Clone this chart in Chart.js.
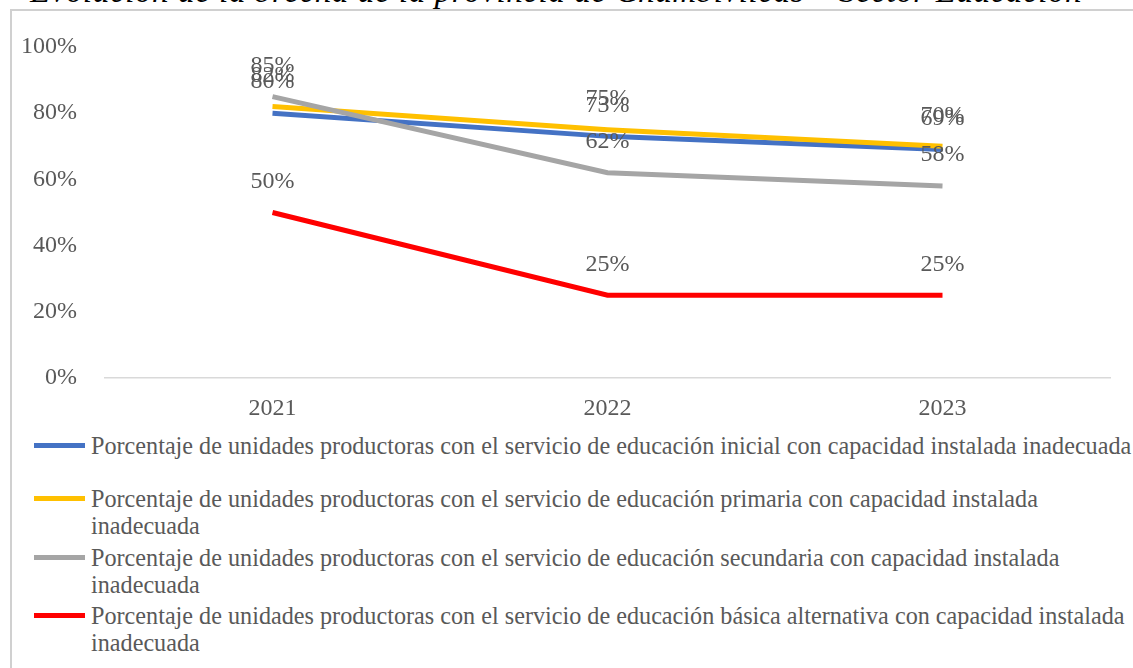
<!DOCTYPE html>
<html>
<head>
<meta charset="utf-8">
<script src="https://cdn.jsdelivr.net/npm/chart.js@4/dist/chart.umd.min.js"></script>
<style>
  body { margin: 0; background: #fff; width: 1133px; height: 668px; overflow: hidden; position: relative; font-family: "Liberation Serif", "Times New Roman", serif; }
  #titulo { position: absolute; left: 30px; top: -25.5px; font-style: italic; font-size: 33px; line-height: 33px; letter-spacing: 0.6px; white-space: nowrap; color: #000; }
  #marco { position: absolute; left: 10px; top: 9px; width: 1140px; height: 680px; border: 2px solid #d0d0d0; box-sizing: border-box; background: transparent; }
  #caja { position: absolute; left: 0; top: 0; width: 1133px; height: 426px; }
  #leyenda { position: absolute; left: 0; top: 432px; color: #595959; font-size: 24.2px; }
  .item { position: relative; padding-left: 91px; line-height: 27px; white-space: pre; }
  .item .linea { position: absolute; left: 34px; top: 11px; width: 51px; height: 5px; }
</style>
</head>
<body>
<div id="titulo">Evolución de la brecha de la provincia de Chumbivilcas – Sector Educación</div>
<div id="marco"></div>
<div id="caja"><canvas id="grafico"></canvas></div>
<div id="leyenda"></div>
<script>
// Datos del gráfico
const anios = ['2021', '2022', '2023'];
const inicial = [80, 73, 69];
const primaria = [82, 75, 70];
const secundaria = [85, 62, 58];
const basica = [50, 25, 25];

const nombres = [
  'Porcentaje de unidades productoras con el servicio de educación inicial con capacidad instalada inadecuada',
  'Porcentaje de unidades productoras con el servicio de educación primaria con capacidad instalada\ninadecuada',
  'Porcentaje de unidades productoras con el servicio de educación secundaria con capacidad instalada\ninadecuada',
  'Porcentaje de unidades productoras con el servicio de educación básica alternativa con capacidad instalada\ninadecuada'
];
const colores = ['#4472C4', '#FFC000', '#A5A5A5', '#FF0000'];
const series = [inicial, primaria, secundaria, basica];

// separación entre entradas de la leyenda
const margenLeyenda = [0, 26, 5, 4];

const fuente = { family: '"Liberation Serif", "Times New Roman", serif', size: 24 };
const gris = '#595959';

// etiquetas de datos encima de cada punto
const etiquetas = {
  id: 'etiquetas',
  afterDatasetsDraw(chart) {
    const ctx = chart.ctx;
    ctx.save();
    ctx.font = fuente.size + 'px ' + fuente.family;
    ctx.fillStyle = gris;
    ctx.textAlign = 'center';
    ctx.textBaseline = 'middle';
    chart.data.datasets.forEach((ds, i) => {
      chart.getDatasetMeta(i).data.forEach((pt, j) => {
        ctx.fillText(ds.data[j] + '%', pt.x, pt.y - 31);
      });
    });
    ctx.restore();
  }
};

const ctx = document.getElementById('grafico').getContext('2d');
new Chart(ctx, {
  type: 'line',
  data: {
    labels: anios,
    datasets: series.map((valores, i) => ({
      label: nombres[i],
      data: valores,
      borderColor: colores[i],
      backgroundColor: colores[i],
      borderWidth: 5,
      pointRadius: 0,
      tension: 0,
      fill: false,
      order: series.length - i
    }))
  },
  options: {
    responsive: true,
    maintainAspectRatio: false,
    animation: false,
    layout: { padding: { top: 47, right: 23, left: 0, bottom: 0 } },
    plugins: {
      legend: { display: false },
      tooltip: { enabled: false }
    },
    scales: {
      x: {
        offset: true,
        grid: { display: false },
        border: { display: true, color: '#d9d9d9', width: 1.5 },
        ticks: { font: fuente, color: gris, padding: 8 },
        afterFit: s => { s.height = 48; }
      },
      y: {
        min: 0,
        max: 100,
        grid: { display: false },
        border: { display: false },
        ticks: { stepSize: 20, font: fuente, color: gris, padding: 20, callback: v => v + '%' },
        afterFit: s => { s.width = 105; }
      }
    }
  },
  plugins: [etiquetas]
});

// leyenda propia para poder partir las líneas
const leyenda = document.getElementById('leyenda');
nombres.forEach((nombre, i) => {
  const div = document.createElement('div');
  div.className = 'item';
  div.style.marginTop = margenLeyenda[i] + 'px';
  div.innerHTML = `<span class="linea" style="background:${colores[i]}"></span>${nombre}`;
  leyenda.appendChild(div);
});
</script>
</body>
</html>
